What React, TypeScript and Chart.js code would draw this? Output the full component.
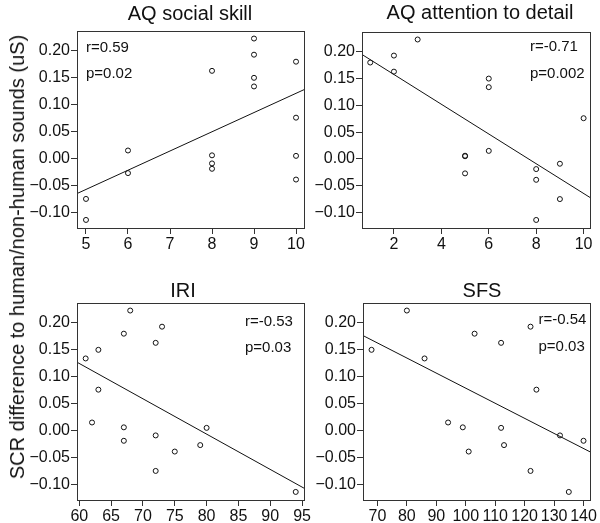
import React, { useEffect, useRef } from "react";
import { Chart, registerables } from "chart.js";

Chart.register(...registerables);

// SCR difference per subject (shared across the four panels)
const scrDiff = [0.223, 0.193, 0.18, 0.163, 0.15, 0.134, 0.076, 0.015, 0.006, 0.005, -0.009, -0.019, -0.027, -0.039, -0.075, -0.114];
const aqSocial = [9, 9, 10, 8, 9, 9, 10, 6, 8, 10, 8, 8, 6, 10, 5, 5];
const aqAttention = [3, 2, 1, 2, 6, 6, 10, 6, 5, 5, 9, 8, 5, 8, 9, 8];
const iri = [68, 73, 67, 72, 63, 61, 63, 62, 67, 80, 72, 67, 79, 75, 72, 94];
const sfs = [80, 122, 103, 112, 68, 86, 124, 94, 99, 112, 132, 140, 113, 101, 122, 135];

// Regression line end points
const fitSocialX = [4.786, 10.19];
const fitSocialY = [-0.065, 0.128];
const fitAttentionX = [0.653, 10.27];
const fitAttentionY = [0.195, -0.072];
const fitIriX = [59.64, 95.3];
const fitIriY = [0.127, -0.107];
const fitSfsX = [65.1, 142.2];
const fitSfsY = [0.1765, -0.0395];

// Tick labels
const yTicks = [-0.1, -0.05, 0, 0.05, 0.1, 0.15, 0.2];
const socialTicks = [5, 6, 7, 8, 9, 10];
const attentionTicks = [2, 4, 6, 8, 10];
const iriTicks = [60, 65, 70, 75, 80, 85, 90, 95];
const sfsTicks = [70, 80, 90, 100, 110, 120, 130, 140];

const titles = ["AQ social skill", "AQ attention to detail", "IRI", "SFS"];
const rLabels = ["r=0.59", "r=-0.71", "r=-0.53", "r=-0.54"];
const pLabels = ["p=0.02", "p=0.002", "p=0.03", "p=0.03"];
const yAxisTitle = "SCR difference to human/non-human sounds (uS)";

const FONT = '"Liberation Sans", Arial, Helvetica, sans-serif';
const Y_MIN = -0.129;
const Y_MAX = 0.237;
const AXIS_W = 70;
const PAD_L = 7;
const PAD_T = 31;
const PAD_R = 14;
const AXIS_H = 30;
const PAD_B = 4;

type PanelProps = {
  box: { L: number; R: number; T: number; B: number };
  xMin: number;
  xMax: number;
  xTicks: number[];
  xs: number[];
  fitX: number[];
  fitY: number[];
  title: string;
  titlePos: [number, number];
  r: string;
  p: string;
  annPos: [number, number, number, number];
};

function fmtY(v: number) {
  const a = Math.abs(v).toFixed(2);
  return v < -1e-9 ? "\u2212" + a : a;
}

function Panel(props: PanelProps) {
  const ref = useRef<HTMLCanvasElement | null>(null);
  const { box } = props;
  const left = box.L - AXIS_W - PAD_L;
  const top = box.T - PAD_T;
  const width = box.R - box.L + AXIS_W + PAD_L + PAD_R;
  const height = PAD_T + (box.B - box.T) + AXIS_H + PAD_B;

  useEffect(() => {
    if (!ref.current) return;
    const textPlugin = {
      id: "panelText",
      afterDraw(chart: any) {
        const ctx = chart.ctx;
        const ca = chart.chartArea;
        ctx.save();
        ctx.strokeStyle = "#333";
        ctx.lineWidth = 1;
        ctx.strokeRect(Math.round(ca.left) + 0.5, Math.round(ca.top) + 0.5, Math.round(ca.right - ca.left), Math.round(ca.bottom - ca.top));
        ctx.fillStyle = "#111";
        ctx.textBaseline = "alphabetic";
        ctx.font = "20px " + FONT;
        ctx.textAlign = "center";
        ctx.fillText(props.title, props.titlePos[0] - left, props.titlePos[1] - top);
        ctx.font = "15px " + FONT;
        ctx.textAlign = "left";
        ctx.fillText(props.r, props.annPos[0] - left, props.annPos[1] - top);
        ctx.fillText(props.p, props.annPos[2] - left, props.annPos[3] - top);
        ctx.restore();
      },
    };
    const pts = props.xs.map((x, i) => ({ x, y: scrDiff[i] }));
    const line = props.fitX.map((x, i) => ({ x, y: props.fitY[i] }));
    const chart = new Chart(ref.current, {
      type: "scatter",
      data: {
        datasets: [
          {
            data: pts,
            showLine: false,
            pointStyle: "circle",
            pointRadius: 2.5,
            pointBorderWidth: 1,
            pointBackgroundColor: "rgba(0,0,0,0)",
            pointBorderColor: "#111",
          },
          {
            data: line,
            showLine: true,
            pointRadius: 0,
            borderWidth: 1,
            borderColor: "#111",
            fill: false,
          },
        ],
      },
      options: {
        animation: false,
        responsive: false,
        devicePixelRatio: 1,
        layout: { padding: { left: PAD_L, top: PAD_T, right: PAD_R, bottom: PAD_B } },
        plugins: { legend: { display: false }, tooltip: { enabled: false }, title: { display: false } },
        events: [],
        scales: {
          x: {
            type: "linear",
            min: props.xMin,
            max: props.xMax,
            afterBuildTicks: (s: any) => {
              s.ticks = props.xTicks.map((v) => ({ value: v }));
            },
            afterFit: (s: any) => {
              s.height = AXIS_H;
            },
            grid: { display: true, drawOnChartArea: false, drawTicks: true, tickLength: 6, color: "#333", lineWidth: 1 },
            border: { display: false },
            ticks: {
              color: "#111",
              font: { family: FONT, size: 16 },
              padding: 1,
              maxRotation: 0,
              autoSkip: false,
              callback: (v: any) => String(v),
            },
          },
          y: {
            type: "linear",
            min: Y_MIN,
            max: Y_MAX,
            afterBuildTicks: (s: any) => {
              s.ticks = yTicks.map((v) => ({ value: v }));
            },
            afterFit: (s: any) => {
              s.width = AXIS_W;
            },
            grid: { display: true, drawOnChartArea: false, drawTicks: true, tickLength: 6, color: "#333", lineWidth: 1 },
            border: { display: false },
            ticks: {
              color: "#111",
              font: { family: FONT, size: 16 },
              padding: 1,
              autoSkip: false,
              callback: (v: any) => fmtY(Number(v)),
            },
          },
        },
      },
      plugins: [textPlugin],
    } as any);
    return () => chart.destroy();
  }, []);

  return (
    <canvas
      ref={ref}
      width={width}
      height={height}
      style={{ position: "absolute", left, top, width, height }}
    />
  );
}

export default function App() {
  return (
    <div style={{ position: "absolute", left: 0, top: 0, width: 600, height: 523, background: "#fff", overflow: "hidden" }}>
      <Panel
        box={{ L: 77, R: 304, T: 31, B: 228 }}
        xMin={4.786}
        xMax={10.19}
        xTicks={socialTicks}
        xs={aqSocial}
        fitX={fitSocialX}
        fitY={fitSocialY}
        title={titles[0]}
        titlePos={[190, 20]}
        r={rLabels[0]}
        p={pLabels[0]}
        annPos={[86, 52, 86, 77.5]}
      />
      <Panel
        box={{ L: 362, R: 590, T: 32, B: 228 }}
        xMin={0.653}
        xMax={10.27}
        xTicks={attentionTicks}
        xs={aqAttention}
        fitX={fitAttentionX}
        fitY={fitAttentionY}
        title={titles[1]}
        titlePos={[480, 18.5]}
        r={rLabels[1]}
        p={pLabels[1]}
        annPos={[530, 51, 530, 77.5]}
      />
      <Panel
        box={{ L: 77, R: 304, T: 303, B: 500 }}
        xMin={59.64}
        xMax={95.3}
        xTicks={iriTicks}
        xs={iri}
        fitX={fitIriX}
        fitY={fitIriY}
        title={titles[2]}
        titlePos={[183, 297]}
        r={rLabels[2]}
        p={pLabels[2]}
        annPos={[245, 325.5, 245, 352]}
      />
      <Panel
        box={{ L: 363, R: 590, T: 303, B: 500 }}
        xMin={65.1}
        xMax={142.2}
        xTicks={sfsTicks}
        xs={sfs}
        fitX={fitSfsX}
        fitY={fitSfsY}
        title={titles[3]}
        titlePos={[482, 297]}
        r={rLabels[3]}
        p={pLabels[3]}
        annPos={[538.5, 324, 538.5, 350.5]}
      />
      <div
        style={{
          position: "absolute",
          left: 17,
          top: 257,
          transform: "translate(-50%, -50%) rotate(-90deg)",
          whiteSpace: "nowrap",
          fontFamily: FONT,
          fontSize: 20,
          color: "#111",
          lineHeight: 1,
        }}
      >
        {yAxisTitle}
      </div>
    </div>
  );
}
